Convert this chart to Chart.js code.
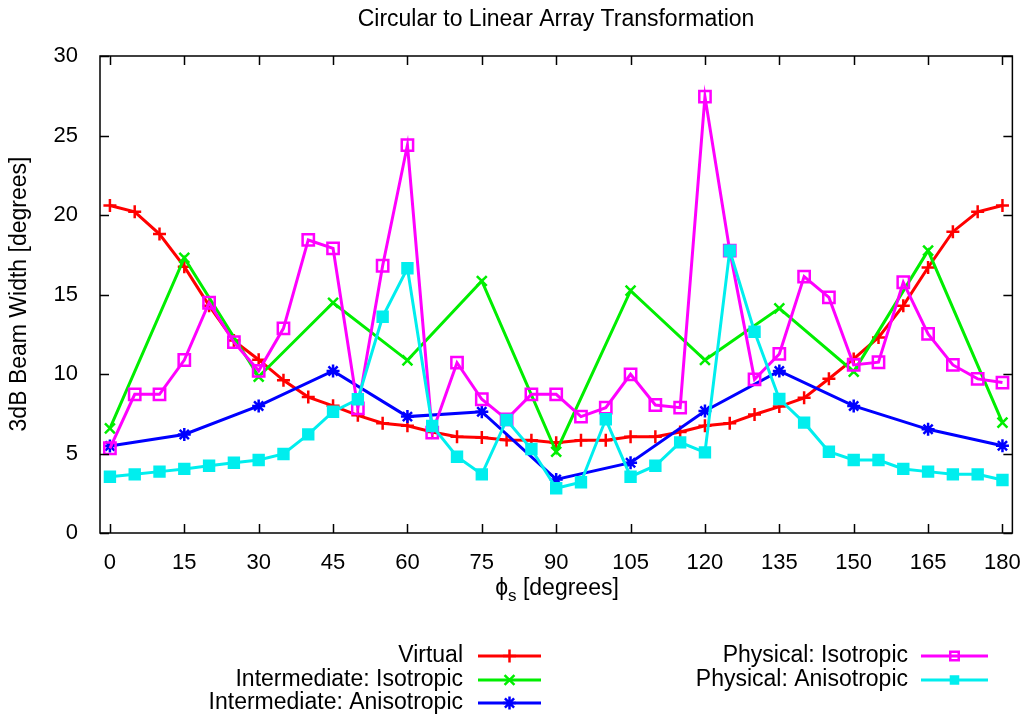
<!DOCTYPE html>
<html>
<head>
<meta charset="utf-8">
<script src="https://cdn.jsdelivr.net/npm/chart.js@4/dist/chart.umd.min.js"></script>
<style>
  html, body { margin: 0; padding: 0; background: #fff; }
  #wrap { width: 1030px; height: 718px; }
</style>
</head>
<body>
<div id="wrap"><canvas id="beamChart" width="1030" height="718"></canvas></div>
<script>
// angles (degrees)
const angles5 = [0, 5, 10, 15, 20, 25, 30, 35, 40, 45, 50, 55, 60, 65, 70, 75, 80, 85, 90,
  95, 100, 105, 110, 115, 120, 125, 130, 135, 140, 145, 150, 155, 160, 165, 170, 175, 180];
const angles15 = [0, 15, 30, 45, 60, 75, 90, 105, 120, 135, 150, 165, 180];

// 3dB beam widths
const virtualBW = [20.6, 20.2, 18.8, 16.75, 14.3, 12.1, 10.9, 9.6, 8.55, 8.0, 7.4, 6.9, 6.75, 6.35, 6.05, 6.0, 5.85, 5.83, 5.68,
  5.83, 5.83, 6.05, 6.05, 6.35, 6.75, 6.9, 7.45, 7.95, 8.5, 9.7, 10.95, 12.3, 14.3, 16.7, 18.95, 20.2, 20.6];
const interIso = [6.58, 17.3, 9.83, 14.48, 10.86, 15.85, 5.11, 15.24, 10.88, 14.13, 10.15, 17.76, 6.94];
const interAniso = [5.47, 6.2, 7.99, 10.19, 7.32, 7.63, 3.37, 4.42, 7.67, 10.19, 7.99, 6.52, 5.49];
const physIso = [5.33, 8.72, 8.72, 10.88, 14.48, 12.0, 10.2, 12.87, 18.43, 17.9, 7.84, 16.81, 24.4, 6.31, 10.71, 8.41, 7.15, 8.72, 8.72,
  7.32, 7.88, 9.98, 8.05, 7.88, 27.44, 17.76, 9.66, 11.26, 16.13, 14.82, 10.57, 10.74, 15.77, 12.52, 10.57, 9.69, 9.46];
const physAniso = [3.54, 3.69, 3.86, 4.03, 4.23, 4.42, 4.59, 4.97, 6.2, 7.63, 8.41, 13.6, 16.65, 6.73, 4.8, 3.69, 7.11, 5.28, 2.81,
  3.19, 7.15, 3.54, 4.23, 5.7, 5.07, 17.76, 12.66, 8.43, 6.94, 5.11, 4.59, 4.59, 4.03, 3.86, 3.69, 3.69, 3.33];

const xTicks = [0, 15, 30, 45, 60, 75, 90, 105, 120, 135, 150, 165, 180];
const yTicks = [0, 5, 10, 15, 20, 25, 30];

const FONT = "'Liberation Sans', Arial, Helvetica, sans-serif";

function pts(xs, ys) {
  return xs.map(function (x, i) { return { x: x, y: ys[i] }; });
}

function series(label, xs, ys, color, style, radius, fill, order) {
  return {
    label: label,
    data: pts(xs, ys),
    borderColor: color,
    backgroundColor: fill ? color : 'rgba(0,0,0,0)',
    borderWidth: 3,
    pointStyle: style,
    pointRadius: radius,
    pointBorderWidth: 2.5,
    pointBorderColor: color,
    pointBackgroundColor: fill ? color : 'rgba(0,0,0,0)',
    tension: 0,
    order: order
  };
}

// frame, inward tick marks, titles and legend, gnuplot style
const framePlugin = {
  id: 'frame',
  afterDraw: function (chart) {
    const ctx = chart.ctx;
    const a = chart.chartArea;
    const xs = chart.scales.x, ys = chart.scales.y;
    ctx.save();
    ctx.strokeStyle = '#000';
    ctx.lineWidth = 1.5;
    ctx.strokeRect(a.left, a.top, a.right - a.left, a.bottom - a.top);
    ctx.beginPath();
    xTicks.forEach(function (v) {
      const px = Math.round(xs.getPixelForValue(v)) + 0.5;
      ctx.moveTo(px, a.bottom); ctx.lineTo(px, a.bottom - 9);
      ctx.moveTo(px, a.top); ctx.lineTo(px, a.top + 9);
    });
    yTicks.forEach(function (v) {
      const py = Math.round(ys.getPixelForValue(v)) + 0.5;
      ctx.moveTo(a.left, py); ctx.lineTo(a.left + 9, py);
      ctx.moveTo(a.right, py); ctx.lineTo(a.right - 9, py);
    });
    ctx.stroke();

    ctx.fillStyle = '#000';
    // title
    ctx.font = '23px ' + FONT;
    ctx.textAlign = 'center';
    ctx.textBaseline = 'middle';
    ctx.fillText('Circular to Linear Array Transformation', 556, 20);

    // y title
    ctx.save();
    ctx.translate(20, 294);
    ctx.rotate(-Math.PI / 2);
    ctx.fillText('3dB Beam Width [degrees]', 0, 0);
    ctx.restore();

    // x title with subscript
    const phi = '\u03D5', sub = 's', rest = ' [degrees]';
    ctx.font = '23px ' + FONT;
    const wPhi = ctx.measureText(phi).width;
    const wRest = ctx.measureText(rest).width;
    ctx.font = '17px ' + FONT;
    const wSub = ctx.measureText(sub).width;
    const x0 = 557 - (wPhi + wSub + wRest) / 2;
    ctx.textAlign = 'left';
    ctx.font = '23px ' + FONT;
    ctx.fillText(phi, x0, 589);
    ctx.font = '17px ' + FONT;
    ctx.fillText(sub, x0 + wPhi, 596);
    ctx.font = '23px ' + FONT;
    ctx.fillText(rest, x0 + wPhi + wSub, 589);

    // legend
    const cols = [
      { textRight: 463, lineL: 478, lineR: 541, rows: [656, 680, 703], idx: [0, 1, 2] },
      { textRight: 908, lineL: 921, lineR: 988, rows: [656, 680], idx: [3, 4] }
    ];
    ctx.textAlign = 'right';
    cols.forEach(function (c) {
      c.idx.forEach(function (di, r) {
        const ds = chart.data.datasets[di];
        const y = c.rows[r];
        ctx.font = '23px ' + FONT;
        ctx.fillStyle = '#000';
        ctx.fillText(ds.label, c.textRight, y);
        ctx.strokeStyle = ds.borderColor;
        ctx.lineWidth = 3;
        ctx.beginPath();
        ctx.moveTo(c.lineL, y); ctx.lineTo(c.lineR, y);
        ctx.stroke();
        ctx.fillStyle = ds.pointBackgroundColor;
        ctx.strokeStyle = ds.borderColor;
        ctx.lineWidth = ds.pointBorderWidth;
        Chart.helpers.drawPoint(ctx, {
          pointStyle: ds.pointStyle,
          radius: ds.pointStyle === 'rect' ? ds.pointRadius - 2 : ds.pointRadius,
          borderWidth: ds.pointBorderWidth
        }, (c.lineL + c.lineR) / 2, y);
      });
    });
    ctx.restore();
  }
};

const ctx = document.getElementById('beamChart').getContext('2d');
new Chart(ctx, {
  type: 'line',
  data: {
    datasets: [
      series('Virtual', angles5, virtualBW, '#ff0000', 'cross', 6.5, false, 5),
      series('Intermediate: Isotropic', angles15, interIso, '#00ee00', 'crossRot', 7, false, 4),
      series('Intermediate: Anisotropic', angles15, interAniso, '#0000ff', 'star', 6.5, false, 3),
      series('Physical: Isotropic', angles5, physIso, '#ff00ff', 'rect', 8, false, 2),
      series('Physical: Anisotropic', angles5, physAniso, '#00eeee', 'rect', 7, true, 1)
    ]
  },
  options: {
    responsive: false,
    animation: false,
    layout: { padding: { top: 56, right: 17, left: 0, bottom: 0 } },
    plugins: { legend: { display: false }, title: { display: false }, tooltip: { enabled: false } },
    scales: {
      x: {
        type: 'linear',
        min: -2,
        max: 182,
        afterBuildTicks: function (s) { s.ticks = xTicks.map(function (v) { return { value: v }; }); },
        afterFit: function (s) { s.height = 185; },
        grid: { display: false },
        border: { display: false },
        ticks: { color: '#000', font: { family: FONT, size: 22 }, padding: 9, maxRotation: 0, autoSkip: false }
      },
      y: {
        min: 0,
        max: 30,
        afterBuildTicks: function (s) { s.ticks = yTicks.map(function (v) { return { value: v }; }); },
        afterFit: function (s) { s.width = 100; },
        grid: { display: false },
        border: { display: false },
        ticks: { color: '#000', font: { family: FONT, size: 22 }, padding: 14 }
      }
    }
  },
  plugins: [framePlugin]
});
</script>
</body>
</html>
